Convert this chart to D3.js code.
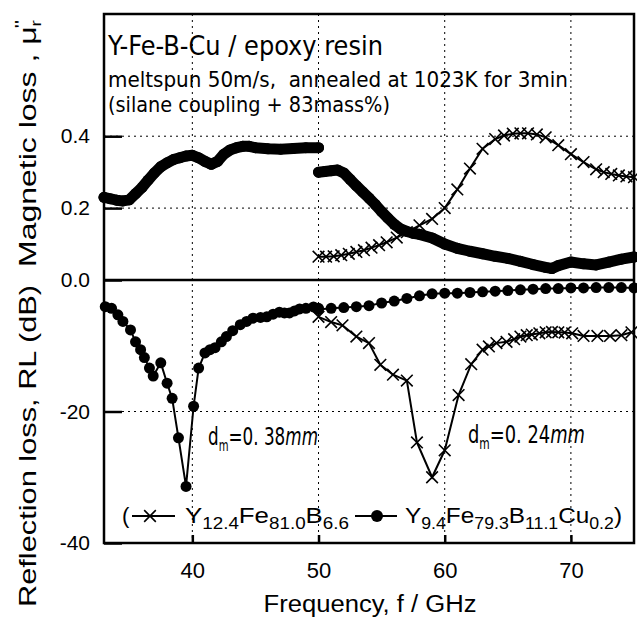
<!DOCTYPE html>
<html>
<head>
<meta charset="utf-8">
<script src="https://cdn.jsdelivr.net/npm/d3@7"></script>
<style>
body { margin: 0; background: #fff; }
text { font-family: "Liberation Sans", Arial, sans-serif; fill: #000; }
.narrow { font-family: "Liberation Sans Narrow", "DejaVu Sans Condensed", "Liberation Sans", sans-serif; font-stretch: condensed; white-space: pre; }
</style>
</head>
<body>
<div id="chart"></div>
<script>
// magnetic loss, Y9.4Fe79.3B11.1Cu0.2, band 33-50 GHz
var freqMuCuA = [33, 33.5, 34, 34.5, 35, 35.5, 36, 36.5, 37, 37.5, 38, 38.5, 39, 39.5, 40, 40.5, 41, 41.5, 42, 42.5, 43, 43.5, 44, 44.5, 45, 46, 47, 48, 49, 50];
var muCuA = [0.23, 0.226, 0.222, 0.22, 0.223, 0.24, 0.257, 0.278, 0.298, 0.315, 0.326, 0.335, 0.34, 0.345, 0.347, 0.34, 0.33, 0.322, 0.33, 0.35, 0.362, 0.368, 0.372, 0.372, 0.368, 0.365, 0.364, 0.366, 0.368, 0.368];
// band 50-75 GHz
var freqMuCuB = [50, 50.5, 51, 51.5, 52, 52.5, 53, 53.5, 54, 54.5, 55, 55.5, 56, 56.5, 57, 57.5, 58, 59, 60, 61, 62, 63, 64, 65, 66, 67, 68, 68.5, 69, 70, 71, 72, 73, 74, 75];
var muCuB = [0.30, 0.302, 0.304, 0.306, 0.298, 0.28, 0.262, 0.245, 0.228, 0.21, 0.19, 0.172, 0.155, 0.142, 0.135, 0.13, 0.127, 0.117, 0.1, 0.088, 0.08, 0.073, 0.066, 0.06, 0.052, 0.043, 0.035, 0.032, 0.04, 0.05, 0.045, 0.042, 0.05, 0.058, 0.064];

// magnetic loss, Y12.4Fe81.0B6.6
var freqMuY = [50, 50.6, 51.2, 51.8, 52.4, 53, 53.6, 54.2, 54.8, 55.4, 56.2, 57, 58, 59, 60, 61, 62, 63, 64, 64.7, 65.4, 66, 66.6, 67.3, 68, 69, 70, 71, 72, 72.6, 73.2, 73.8, 74.4, 75];
var muY = [0.065, 0.065, 0.066, 0.069, 0.073, 0.078, 0.083, 0.09, 0.097, 0.105, 0.118, 0.133, 0.152, 0.17, 0.2, 0.252, 0.31, 0.365, 0.392, 0.402, 0.407, 0.408, 0.408, 0.405, 0.397, 0.375, 0.35, 0.328, 0.308, 0.3, 0.295, 0.291, 0.288, 0.286];

// reflection loss, Cu alloy (dm = 0.38 mm)
var freqRlCuA = [33.1, 33.6, 34.1, 34.5, 35.1, 35.5, 35.9, 36.2, 36.6, 36.9, 37.5, 38, 38.4, 38.9, 39.5, 40.1, 40.5, 41, 41.4, 41.8, 42.3, 42.7, 43.2, 43.8, 44.3, 44.8, 45.4, 45.9, 46.4, 46.9, 47.3, 47.7, 48.1, 48.5, 49, 49.6, 50];
var rlCuA = [-4.05, -4.3, -5.3, -6.3, -7.6, -9.4, -10.6, -11.8, -13.4, -14.6, -12.6, -15.7, -18, -24, -31.4, -19.2, -13.4, -11.1, -10.6, -10.3, -9.4, -8.6, -7.7, -6.8, -6.3, -5.8, -5.7, -5.6, -5.2, -4.9, -5.0, -5.0, -4.7, -4.4, -4.3, -4.1, -4.3];
var freqRlCuB = [50, 51, 52, 53, 54, 55, 56, 57, 58, 59, 60, 61, 62, 63, 64, 65, 66, 67, 68, 69, 70, 71, 72, 73, 74, 75];
var rlCuB = [-4.5, -4.3, -4.2, -4.05, -3.9, -3.5, -3.2, -2.8, -2.4, -2.1, -2.0, -2.0, -1.9, -1.8, -1.7, -1.6, -1.5, -1.4, -1.3, -1.3, -1.2, -1.2, -1.15, -1.15, -1.15, -1.2];

// reflection loss, Y12.4Fe81.0B6.6 (dm = 0.24 mm)
var freqRlY = [50, 51, 51.9, 53, 54, 54.9, 55.9, 57, 57.8, 59, 60, 61.1, 62.1, 63, 63.5, 64.1, 64.9, 65.5, 66, 66.5, 66.9, 67.5, 68, 68.5, 69, 69.5, 70.1, 71, 72.1, 73.1, 74, 74.8];
var rlY = [-5.6, -6.4, -6.9, -8.6, -9.6, -12.9, -14.4, -15.3, -24.7, -30.0, -25.9, -17.5, -12.8, -10.6, -10.1, -9.6, -9.4, -9.0, -8.6, -8.4, -8.3, -8.1, -7.95, -7.9, -7.95, -8.0, -8.1, -8.5, -8.5, -8.5, -8.4, -7.95];

var xTicks = [40, 50, 60, 70];
var muTicks = [0.0, 0.2, 0.4];
var rlTicks = [-20, -40];
var muGrid = [0.2, 0.4];
var rlGrid = [-20];

var width = 637, height = 623;
var plotL = 104, plotR = 634, plotT = 14, plotB = 543, plotMid = 280;

var svg = d3.select("#chart").append("svg")
    .attr("width", width)
    .attr("height", height);

var x = d3.scaleLinear().domain([33, 75]).range([plotL, plotR]);
var yMu = d3.scaleLinear().domain([0, 0.74]).range([plotMid, plotT]);
var yRl = d3.scaleLinear().domain([-40, 0]).range([plotB, plotMid]);

// grid
var grid = svg.append("g")
    .attr("stroke", "#000")
    .attr("stroke-width", 1)
    .attr("stroke-dasharray", "2,4");
grid.selectAll(".vg").data(xTicks).enter().append("line")
    .attr("x1", d => x(d)).attr("x2", d => x(d))
    .attr("y1", plotT).attr("y2", plotB);
grid.selectAll(".hm").data(muGrid).enter().append("line")
    .attr("x1", plotL).attr("x2", plotR)
    .attr("y1", d => yMu(d)).attr("y2", d => yMu(d));
grid.selectAll(".hr").data(rlGrid).enter().append("line")
    .attr("x1", plotL).attr("x2", plotR)
    .attr("y1", d => yRl(d)).attr("y2", d => yRl(d));

// axes
var axMu = svg.append("g")
    .attr("transform", "translate(" + plotL + ",0)")
    .call(d3.axisLeft(yMu).tickValues(muTicks).tickSize(-18).tickPadding(14).tickFormat(d3.format(".1f")));
var axRl = svg.append("g")
    .attr("transform", "translate(" + plotL + ",0)")
    .call(d3.axisLeft(yRl).tickValues(rlTicks).tickSize(-18).tickPadding(14).tickFormat(d => String(d)));
var axX = svg.append("g")
    .attr("transform", "translate(0," + plotB + ")")
    .call(d3.axisBottom(x).tickValues(xTicks).tickSize(-8).tickPadding(19).tickFormat(d => String(d)));

[axMu, axRl, axX].forEach(function(ax) {
    ax.select(".domain").remove();
    ax.selectAll(".tick line").attr("stroke-width", 2.5);
    ax.selectAll(".tick text")
        .style("font-family", "'Liberation Sans', Arial, sans-serif")
        .style("font-size", "21px");
});
axX.selectAll(".tick text").style("font-size", "22px");

// frame and zero line
svg.append("rect")
    .attr("x", plotL).attr("y", plotT)
    .attr("width", plotR - plotL).attr("height", plotB - plotT)
    .attr("fill", "none").attr("stroke", "#000").attr("stroke-width", 2.5);
svg.append("line")
    .attr("x1", plotL).attr("x2", plotR)
    .attr("y1", yMu(0)).attr("y2", yMu(0))
    .attr("stroke", "#000").attr("stroke-width", 2.5);

var lineMu = d3.line().x(d => x(d[0])).y(d => yMu(d[1]));
var lineRl = d3.line().x(d => x(d[0])).y(d => yRl(d[1]));
var timesShape = d3.symbolTimes || d3.symbolCross;
var crossPath = d3.symbol().type(timesShape).size(90)();

function drawDots(data, line, yScale, thick, r) {
    var g = svg.append("g");
    g.append("path")
        .attr("d", line(data))
        .attr("fill", "none")
        .attr("stroke", "#000")
        .attr("stroke-width", thick)
        .attr("stroke-linecap", "round")
        .attr("stroke-linejoin", "round");
    g.selectAll("circle").data(data).enter().append("circle")
        .attr("cx", d => x(d[0]))
        .attr("cy", d => yScale(d[1]))
        .attr("r", r)
        .attr("fill", "#000");
}

function drawCrosses(data, line, yScale) {
    var g = svg.append("g");
    g.append("path")
        .attr("d", line(data))
        .attr("fill", "none")
        .attr("stroke", "#000")
        .attr("stroke-width", 2);
    g.selectAll(".cx").data(data).enter().append("path")
        .attr("d", crossPath)
        .attr("transform", d => "translate(" + x(d[0]) + "," + yScale(d[1]) + ")")
        .attr("fill", "none")
        .attr("stroke", "#000")
        .attr("stroke-width", 1.6);
}

drawDots(d3.zip(freqMuCuA, muCuA), lineMu, yMu, 11, 5.5);
drawDots(d3.zip(freqMuCuB, muCuB), lineMu, yMu, 11, 5.5);
drawCrosses(d3.zip(freqMuY, muY), lineMu, yMu);
drawDots(d3.zip(freqRlCuA, rlCuA), lineRl, yRl, 2, 5.5);
drawDots(d3.zip(freqRlCuB, rlCuB), lineRl, yRl, 2, 5.5);
drawCrosses(d3.zip(freqRlY, rlY), lineRl, yRl);

// title block
svg.append("text").attr("class", "narrow")
    .attr("x", 108).attr("y", 55)
    .style("font-size", "27px")
    .attr("textLength", 275).attr("lengthAdjust", "spacingAndGlyphs")
    .text("Y-Fe-B-Cu / epoxy resin");
svg.append("text").attr("class", "narrow")
    .attr("x", 108).attr("y", 87)
    .style("font-size", "22px")
    .attr("textLength", 460).attr("lengthAdjust", "spacingAndGlyphs")
    .text("meltspun 50m/s,  annealed at 1023K for 3min");
svg.append("text").attr("class", "narrow")
    .attr("x", 108).attr("y", 112)
    .style("font-size", "22px")
    .attr("textLength", 282).attr("lengthAdjust", "spacingAndGlyphs")
    .text("(silane coupling + 83mass%)");

// thickness labels
function thickness(xp, yp, value, len) {
    var t = svg.append("text").attr("class", "narrow")
        .attr("x", xp).attr("y", yp)
        .style("font-size", "25px")
        .attr("textLength", len).attr("lengthAdjust", "spacingAndGlyphs");
    t.append("tspan").text("d");
    t.append("tspan").attr("dy", 6).style("font-size", "15px").text("m");
    t.append("tspan").attr("dy", -6).text("=0. " + value);
    t.append("tspan").style("font-style", "italic").text("mm");
}
thickness(208, 445, "38", 110);
thickness(468, 443, "24", 117);

// legend
var legY = 516;
svg.append("text").attr("x", 122).attr("y", 523).style("font-size", "22px").text("(");
svg.append("line").attr("x1", 132).attr("x2", 175).attr("y1", legY).attr("y2", legY)
    .attr("stroke", "#000").attr("stroke-width", 2);
svg.append("path").attr("d", crossPath)
    .attr("transform", "translate(150," + legY + ")")
    .attr("fill", "none").attr("stroke", "#000").attr("stroke-width", 1.6);
svg.append("line").attr("x1", 355).attr("x2", 397).attr("y1", legY).attr("y2", legY)
    .attr("stroke", "#000").attr("stroke-width", 2);
svg.append("circle").attr("cx", 377).attr("cy", legY).attr("r", 6).attr("fill", "#000");

function formula(xp, parts, len) {
    var t = svg.append("text")
        .attr("x", xp).attr("y", 523)
        .style("font-size", "22px")
        .attr("textLength", len).attr("lengthAdjust", "spacingAndGlyphs");
    parts.forEach(function(p, i) {
        if (i % 2 === 0) {
            t.append("tspan").attr("dy", i === 0 ? 0 : -6).text(p);
        } else {
            t.append("tspan").attr("dy", 6).style("font-size", "16px").text(p);
        }
    });
}
formula(185, ["Y", "12.4", "Fe", "81.0", "B", "6.6"], 164);
formula(405, ["Y", "9.4", "Fe", "79.3", "B", "11.1", "Cu", "0.2", ")"], 217);

// axis titles
svg.append("text")
    .attr("transform", "translate(36,607) rotate(-90)")
    .style("font-size", "24px")
    .attr("textLength", 322).attr("lengthAdjust", "spacingAndGlyphs")
    .text("Reflection loss, RL (dB)");
var yl2 = svg.append("text")
    .attr("transform", "translate(36,267) rotate(-90)")
    .style("font-size", "24px")
    .attr("textLength", 247).attr("lengthAdjust", "spacingAndGlyphs");
yl2.append("tspan").text("Magnetic loss , \u03bc");
yl2.append("tspan").attr("dy", 5).style("font-size", "14px").text("r");
yl2.append("tspan").attr("dy", -14).attr("dx", -6).style("font-size", "16px").text("''");

svg.append("text")
    .attr("x", 370).attr("y", 612)
    .attr("text-anchor", "middle")
    .style("font-size", "23px")
    .attr("textLength", 213).attr("lengthAdjust", "spacingAndGlyphs")
    .text("Frequency, f / GHz");
</script>
</body>
</html>
